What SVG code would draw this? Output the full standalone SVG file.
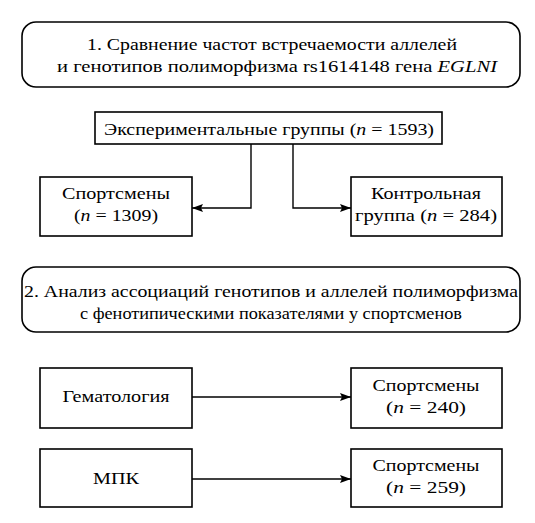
<svg xmlns="http://www.w3.org/2000/svg" width="535" height="523" viewBox="0 0 535 523">
<style>
.box{fill:#fff;stroke:#000;stroke-width:1.6}
.t{font-family:"Liberation Serif","DejaVu Serif","Times New Roman",serif;font-size:17px;fill:#000;text-anchor:middle}
.i{font-style:italic}
.c{fill:none;stroke:#000;stroke-width:1.4}
</style>
<defs>
<marker id="ah" markerWidth="12" markerHeight="8" refX="11" refY="4" orient="auto" markerUnits="userSpaceOnUse">
<path d="M0,0 L11,4 L0,8 L2,4 Z" fill="#000"/>
</marker>
</defs>
<rect width="535" height="523" fill="#fff"/>
<g id="connectors">
<path class="c" d="M251,144 V208 H192" marker-end="url(#ah)"/>
<path class="c" d="M293,144 V208 H351" marker-end="url(#ah)"/>
<path class="c" d="M192,397 H351" marker-end="url(#ah)"/>
<path class="c" d="M192,479 H351" marker-end="url(#ah)"/>
</g>
<g id="stage1">
<rect class="box" x="22" y="22" width="498" height="65" rx="14"/>
<text class="t" x="272" y="50" textLength="370" lengthAdjust="spacingAndGlyphs">1. Сравнение частот встречаемости аллелей</text>
<text class="t" x="277" y="72" textLength="440" lengthAdjust="spacingAndGlyphs">и генотипов полиморфизма rs1614148 гена <tspan class="i">EGLNI</tspan></text>
</g>
<g id="experimental">
<rect class="box" x="95" y="112" width="347" height="32"/>
<text class="t" x="269" y="135" textLength="330" lengthAdjust="spacingAndGlyphs">Экспериментальные группы (<tspan class="i">n</tspan> = 1593)</text>
</g>
<g id="athletes">
<rect class="box" x="40" y="177" width="152" height="59"/>
<text class="t" x="116" y="199" textLength="108" lengthAdjust="spacingAndGlyphs">Спортсмены</text>
<text class="t" x="116" y="221" textLength="84" lengthAdjust="spacingAndGlyphs">(<tspan class="i">n</tspan> = 1309)</text>
</g>
<g id="control">
<rect class="box" x="351" y="177" width="151" height="59"/>
<text class="t" x="426" y="199" textLength="110" lengthAdjust="spacingAndGlyphs">Контрольная</text>
<text class="t" x="426" y="221" textLength="142" lengthAdjust="spacingAndGlyphs">группа (<tspan class="i">n</tspan> = 284)</text>
</g>
<g id="stage2">
<rect class="box" x="22" y="267" width="498" height="65" rx="14"/>
<text class="t" x="271" y="297" textLength="494" lengthAdjust="spacingAndGlyphs">2. Анализ ассоциаций генотипов и аллелей полиморфизма</text>
<text class="t" x="271" y="319" textLength="382" lengthAdjust="spacingAndGlyphs">с фенотипическими показателями у спортсменов</text>
</g>
<g id="hematology">
<rect class="box" x="40" y="368" width="152" height="60"/>
<text class="t" x="116" y="402" textLength="107" lengthAdjust="spacingAndGlyphs">Гематология</text>
</g>
<g id="athletes240">
<rect class="box" x="351" y="368" width="151" height="60"/>
<text class="t" x="426" y="391" textLength="107" lengthAdjust="spacingAndGlyphs">Спортсмены</text>
<text class="t" x="426" y="413" textLength="80" lengthAdjust="spacingAndGlyphs">(<tspan class="i">n</tspan> = 240)</text>
</g>
<g id="mpk">
<rect class="box" x="40" y="449" width="152" height="58"/>
<text class="t" x="116" y="484" textLength="46" lengthAdjust="spacingAndGlyphs">МПК</text>
</g>
<g id="athletes259">
<rect class="box" x="351" y="449" width="151" height="58"/>
<text class="t" x="426" y="471" textLength="107" lengthAdjust="spacingAndGlyphs">Спортсмены</text>
<text class="t" x="426" y="493" textLength="80" lengthAdjust="spacingAndGlyphs">(<tspan class="i">n</tspan> = 259)</text>
</g>
</svg>
